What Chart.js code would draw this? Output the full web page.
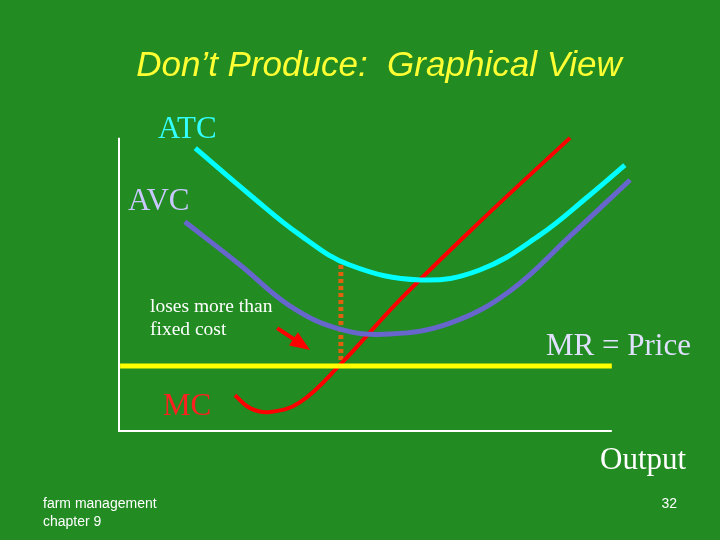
<!DOCTYPE html>
<html><head><meta charset="utf-8">
<script src="https://cdn.jsdelivr.net/npm/chart.js@4"></script>
<style>html,body{margin:0;padding:0;background:#228b22;}#w{width:720px;height:540px;}</style>
</head><body><div id="w"><canvas id="c" width="720" height="540"></canvas></div>
<script>
const atcX=[14.8,25.3,34.9,44.4,57.9,69.3,80.8,90.4,97.1];
const atcY=[85.5,71.4,59.3,50.3,45.8,48.8,59.3,71.4,80.4];
const avcX=[12.8,23.4,32.9,42.5,52.1,63.6,75.1,86.6,98.1];
const avcY=[63.3,50.3,38.0,31.0,29.5,32.8,42.5,59.0,75.9];
const mcX=[22.4,25.3,29.1,34.9,42.5,54.0,69.3,86.6];
const mcY=[11.1,7.2,6.0,9.0,20.2,39.8,63.3,88.6];
const mrX=[0.4,94.6], mrY=[19.9,19.9];
const shutX=[42.7,42.7], shutY=[50.3,19.9];
const axisX=[0,0,94.6], axisY=[88.6,0,0];
const arrowX=[30.5,36.8], arrowY=[31.3,24.7];
const pts=(xs,ys)=>xs.map((x,i)=>({x,y:ys[i]}));
const texts=[
 {t:"Don’t Produce:  Graphical View",x:379,y:76,f:"italic 35px 'Liberation Sans'",c:"#ffff33",a:"center"},
 {t:"ATC",x:158,y:138,f:"31px 'Liberation Serif'",c:"#33ffff",a:"left"},
 {t:"AVC",x:128,y:210,f:"31px 'Liberation Serif'",c:"#c8c8ff",a:"left"},
 {t:"loses more than",x:150,y:312,f:"19.5px 'Liberation Serif'",c:"#ffffff",a:"left"},
 {t:"fixed cost",x:150,y:335,f:"19.5px 'Liberation Serif'",c:"#ffffff",a:"left"},
 {t:"MR = Price",x:546,y:355,f:"31px 'Liberation Serif'",c:"#e0e0ff",a:"left"},
 {t:"MC",x:163,y:415,f:"31px 'Liberation Serif'",c:"#ff2020",a:"left"},
 {t:"Output",x:600,y:469,f:"31px 'Liberation Serif'",c:"#ffffff",a:"left"},
 {t:"farm management",x:43,y:508,f:"14px 'Liberation Sans'",c:"#ffffff",a:"left"},
 {t:"chapter 9",x:43,y:526,f:"14px 'Liberation Sans'",c:"#ffffff",a:"left"},
 {t:"32",x:677,y:508,f:"14px 'Liberation Sans'",c:"#ffffff",a:"right"}
];
const deco={id:'deco',
 beforeDraw(ch){const g=ch.ctx;g.save();g.fillStyle='#228b22';g.fillRect(0,0,ch.width,ch.height);g.restore();},
 afterDraw(ch){const g=ch.ctx,xs=ch.scales.x,ys=ch.scales.y;g.save();
  const x0=xs.getPixelForValue(arrowX[0]),y0=ys.getPixelForValue(arrowY[0]),x1=xs.getPixelForValue(arrowX[1]),y1=ys.getPixelForValue(arrowY[1]);
  const ang=Math.atan2(y1-y0,x1-x0);
  g.strokeStyle='#ff0000';g.lineWidth=4;g.beginPath();g.moveTo(x0,y0);g.lineTo(x1-14*Math.cos(ang),y1-14*Math.sin(ang));g.stroke();
  g.fillStyle='#ff0000';g.beginPath();g.moveTo(x1,y1);
  g.lineTo(x1-20*Math.cos(ang)+8*Math.sin(ang),y1-20*Math.sin(ang)-8*Math.cos(ang));
  g.lineTo(x1-20*Math.cos(ang)-8*Math.sin(ang),y1-20*Math.sin(ang)+8*Math.cos(ang));g.closePath();g.fill();
  g.textBaseline='alphabetic';
  texts.forEach(o=>{g.font=o.f;g.fillStyle=o.c;g.textAlign=o.a;g.fillText(o.t,o.x,o.y);});
  g.restore();}};
const ds=(d,c,w,extra)=>Object.assign({data:d,borderColor:c,borderWidth:w,pointRadius:0,fill:false,tension:0.4},extra||{});
new Chart(document.getElementById('c'),{type:'line',
 data:{datasets:[
  ds(pts(axisX,axisY),'#ffffff',4,{tension:0}),
  ds(pts(mrX,mrY),'#ffff00',5,{tension:0}),
  ds(pts(atcX,atcY),'#00ffff',5),
  ds(pts(avcX,avcY),'#6666cc',5),
  ds(pts(mcX,mcY),'#ff0000',4),
  ds(pts(shutX,shutY),'#e06010',5,{tension:0,borderDash:[4,3]})
 ]},
 options:{responsive:false,animation:false,events:[],
  layout:{padding:{left:118,right:80,top:100,bottom:108}},
  plugins:{legend:{display:false},tooltip:{enabled:false}},
  scales:{x:{type:'linear',min:0,max:100,display:false},y:{type:'linear',min:0,max:100,display:false}}},
 plugins:[deco]});
</script></body></html>
